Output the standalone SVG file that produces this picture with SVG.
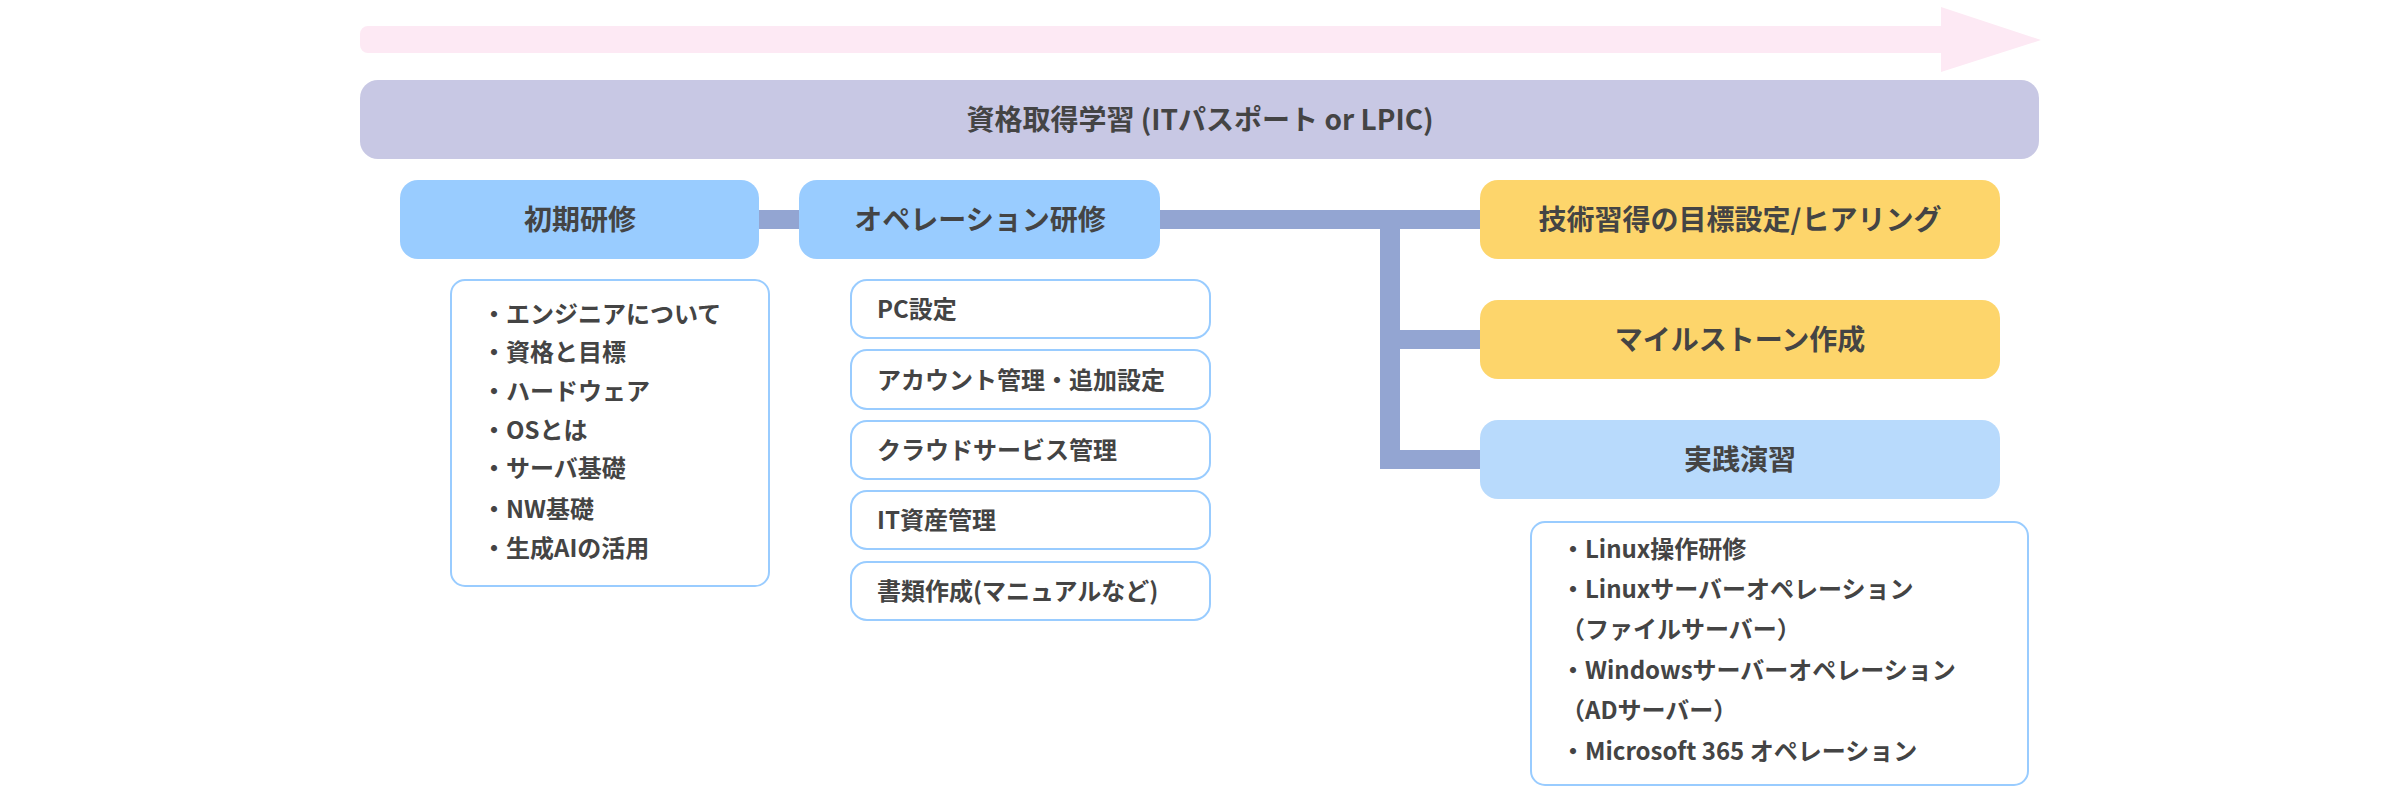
<svg xmlns="http://www.w3.org/2000/svg" width="2400" height="788" viewBox="0 0 2400 788">
<style>
text{font-family:"Noto Sans CJK JP","Noto Sans",sans-serif;fill:#444;font-weight:bold}
.n{font-size:28px;text-anchor:middle}
.d{font-size:24px}
.box{fill:#fff;stroke:#99ccff;stroke-width:2}
</style>
<rect width="2400" height="788" fill="#fff"/>
<g id="arrow"><path d="M368,26H1941V7L2041,40L1941,72V53H368a8,8 0 0 1 -8,-8v-11a8,8 0 0 1 8,-8z" fill="#fde9f4"/></g>
<g id="connectors" fill="#93a5d2">
<rect x="755" y="210" width="50" height="19"/>
<rect x="1155" y="210" width="330" height="19"/>
<rect x="1380" y="210" width="20" height="259"/>
<rect x="1390" y="330" width="95" height="19"/>
<rect x="1390" y="450" width="95" height="19"/>
</g>
<g id="title"><rect x="360" y="80" width="1679" height="79" rx="18" fill="#c8c8e4"/><text class="n" x="1200" y="130">資格取得学習 (ITパスポート or LPIC)</text></g>
<g id="n1"><rect x="400" y="180" width="359" height="79" rx="18" fill="#99ccff"/><text class="n" x="580" y="230">初期研修</text></g>
<g id="n2"><rect x="799" y="180" width="361" height="79" rx="18" fill="#99ccff"/><text class="n" x="980" y="230">オペレーション研修</text></g>
<g id="n3"><rect x="1480" y="180" width="520" height="79" rx="18" fill="#fdd56b"/><text class="n" x="1740" y="230">技術習得の目標設定/ヒアリング</text></g>
<g id="n4"><rect x="1480" y="300" width="520" height="79" rx="18" fill="#fdd56b"/><text class="n" x="1740" y="350">マイルストーン作成</text></g>
<g id="n5"><rect x="1480" y="420" width="520" height="79" rx="18" fill="#b8dafc"/><text class="n" x="1740" y="470">実践演習</text></g>
<g id="d1"><rect class="box" x="451" y="280" width="318" height="306" rx="14"/>
<text class="d" x="482"><tspan x="482" y="323">・エンジニアについて</tspan><tspan x="482" y="361">・資格と目標</tspan><tspan x="482" y="400">・ハードウェア</tspan><tspan x="482" y="439">・OSとは</tspan><tspan x="482" y="477">・サーバ基礎</tspan><tspan x="482" y="518">・NW基礎</tspan><tspan x="482" y="557">・生成AIの活用</tspan></text></g>
<g id="d2">
<rect class="box" x="851" y="280" width="359" height="58" rx="16"/><text class="d" x="877" y="318">PC設定</text>
<rect class="box" x="851" y="350" width="359" height="59" rx="16"/><text class="d" x="877" y="389">アカウント管理・追加設定</text>
<rect class="box" x="851" y="421" width="359" height="58" rx="16"/><text class="d" x="877" y="459">クラウドサービス管理</text>
<rect class="box" x="851" y="491" width="359" height="58" rx="16"/><text class="d" x="877" y="529">IT資産管理</text>
<rect class="box" x="851" y="562" width="359" height="58" rx="16"/><text class="d" x="877" y="600">書類作成(マニュアルなど)</text>
</g>
<g id="d3"><rect class="box" x="1531" y="522" width="497" height="263" rx="14"/>
<text class="d"><tspan x="1561" y="558">・Linux操作研修</tspan><tspan x="1561" y="598">・Linuxサーバーオペレーション</tspan><tspan x="1561" y="638">（ファイルサーバー）</tspan><tspan x="1561" y="679">・Windowsサーバーオペレーション</tspan><tspan x="1561" y="719">（ADサーバー）</tspan><tspan x="1561" y="760">・Microsoft 365 オペレーション</tspan></text></g>
</svg>
